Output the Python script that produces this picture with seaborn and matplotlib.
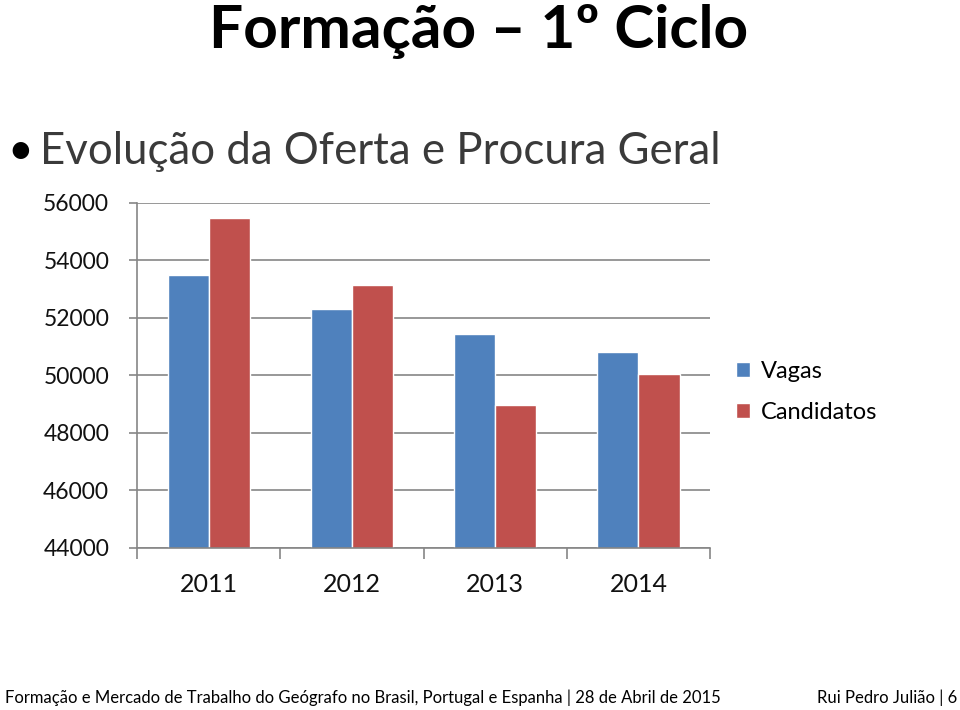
import pandas as pd
import seaborn as sns
import matplotlib.pyplot as plt
from matplotlib.ticker import MultipleLocator, FixedLocator

# Values
anos = ['2011', '2012', '2013', '2014']
vagas = [53490, 52300, 51440, 50800]
candidatos = [55490, 53130, 48990, 50060]
series = ['Vagas', 'Candidatos']
y_ticks = [44000, 46000, 48000, 50000, 52000, 54000, 56000]

df = pd.DataFrame({
    'Ano': anos * 2,
    'Valor': vagas + candidatos,
    'Serie': [series[0]] * len(anos) + [series[1]] * len(anos),
})

sns.set_theme(style="white")
plt.rcParams['font.family'] = ['Lato', 'DejaVu Sans']
plt.rcParams['text.color'] = 'black'

fig = plt.figure(figsize=(9.6, 7.1), dpi=100)
ax = fig.add_axes([0.1427, 0.2282, 0.5969, 0.4859])

palette = {'Vagas': '#4F81BD', 'Candidatos': '#C0504D'}
sns.barplot(data=df, x='Ano', y='Valor', hue='Serie', palette=palette,
            width=0.574, saturation=1, ax=ax)

ax.set_ylim(y_ticks[0], y_ticks[-1])
ax.set_xlim(-0.5, len(anos) - 0.5)
ax.yaxis.set_major_locator(FixedLocator(y_ticks))
ax.grid(axis='y', color='#868686', linewidth=1.2)
ax.set_axisbelow(True)
ax.set_xlabel('')
ax.set_ylabel('')

for s in ['top', 'right']:
    ax.spines[s].set_visible(False)
for s in ['left', 'bottom']:
    ax.spines[s].set_color('#868686')
    ax.spines[s].set_linewidth(1.2)

ax.tick_params(axis='y', which='major', length=6, color='#868686', width=1.2,
               direction='out', left=True, labelsize=16.5, pad=14,
               labelcolor='#111111')
ax.tick_params(axis='x', which='major', length=0, labelsize=18, pad=18,
               labelcolor='#111111')
ax.xaxis.set_minor_locator(MultipleLocator(1, offset=0.5))
ax.tick_params(axis='x', which='minor', length=8, color='#868686', width=1.2,
               direction='out', bottom=True)

handles, labels = ax.get_legend_handles_labels()
ax.legend(handles, labels, loc='center left', bbox_to_anchor=(1.008, 0.452),
          frameon=False, fontsize=17, handlelength=0.6, handleheight=0.6,
          handletextpad=0.45, labelspacing=0.85)

fig.text(0.498, 0.955, 'Formação – 1º Ciclo', ha='center', va='center',
         fontsize=43.5, fontweight='bold', color='black')
fig.text(0.008, 0.786, '•', ha='left', va='center', fontsize=32)
fig.text(0.042, 0.786, 'Evolução da Oferta e Procura Geral', ha='left',
         va='center', fontsize=31.5, color='#3a3a3a')
fig.text(0.005, 0.017, 'Formação e Mercado de Trabalho do Geógrafo no Brasil, '
         'Portugal e Espanha | 28 de Abril de 2015', ha='left', va='center',
         fontsize=12, color='black')
fig.text(0.997, 0.017, 'Rui Pedro Julião | 6', ha='right', va='center',
         fontsize=12, color='black')

fig.savefig('out.png', dpi=100)
